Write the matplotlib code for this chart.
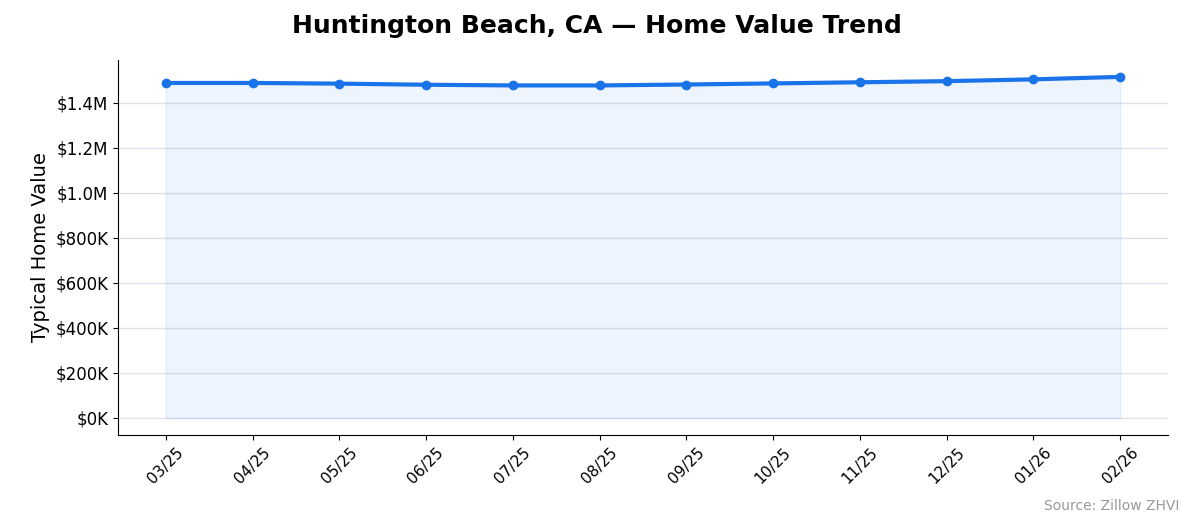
import matplotlib
matplotlib.use("Agg")
import matplotlib.pyplot as plt
from matplotlib.ticker import FuncFormatter

months = ["03/25","04/25","05/25","06/25","07/25","08/25","09/25","10/25","11/25","12/25","01/26","02/26"]
values = [1489000,1489000,1486000,1481000,1478000,1478000,1482000,1487000,1492000,1497000,1505000,1516000]

fig = plt.figure(figsize=(11.94,5.29), dpi=100)
ax = fig.add_axes([118/1194, 1-435/529, (1168-118)/1194, (435-60)/529])
x = list(range(len(months)))
ax.fill_between(x, values, color="#1a73e8", alpha=0.08)
ax.plot(x, values, color="#1a73e8", lw=3, marker="o", ms=6)
ax.set_xticks(x)
ax.set_xticklabels(months, rotation=45, fontsize=11)
ax.set_yticks([i*200000 for i in range(8)])
def fmt(v, p):
    return f"${v/1e6:.1f}M" if v >= 1e6 else f"${v/1e3:.0f}K"
ax.yaxis.set_major_formatter(FuncFormatter(fmt))
ax.tick_params(axis='y', labelsize=12)
ax.set_ylim(-75600, 1591000)
ax.set_xlim(-0.55, 11.55)
ax.grid(axis='y', color="#dde1e8", lw=1)
ax.set_axisbelow(True)
for s in ["top","right"]:
    ax.spines[s].set_visible(False)
ax.set_ylabel("Typical Home Value", fontsize=14)
fig.text(0.5, 1-26/529, "Huntington Beach, CA — Home Value Trend", ha="center", va="center", fontsize=18, fontweight="bold")
fig.text(1179/1194, 1-506/529, "Source: Zillow ZHVI", ha="right", va="center", fontsize=10, color="#999999")
fig.savefig("out.png", dpi=100)
